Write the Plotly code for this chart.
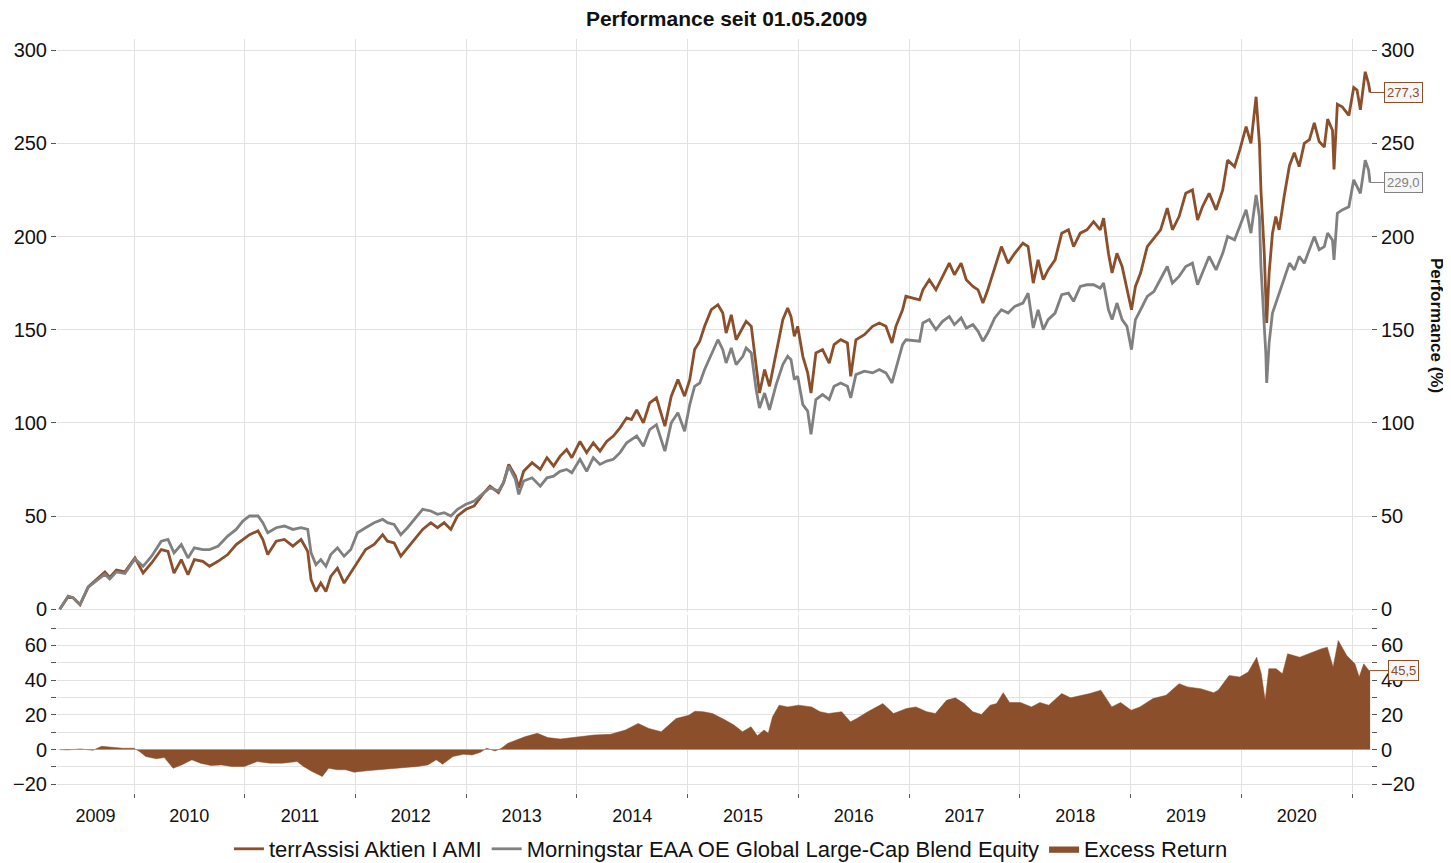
import plotly.graph_objects as go
import pandas as pd

# ---------------- data ----------------
perf_dates = [
    "2009-05-01", "2009-05-29", "2009-06-15", "2009-07-07", "2009-08-03", "2009-08-31", "2009-09-27", "2009-10-13", "2009-11-04", "2009-12-02",
    "2010-01-04", "2010-01-31", "2010-02-28", "2010-04-01", "2010-04-23", "2010-05-13", "2010-06-06", "2010-06-28", "2010-07-19", "2010-08-16",
    "2010-09-07", "2010-10-05", "2010-11-06", "2010-12-04", "2010-12-26",
    "2011-01-17", "2011-02-14", "2011-03-02", "2011-03-18", "2011-04-15", "2011-05-12", "2011-06-09", "2011-07-06", "2011-07-28", "2011-08-08",
    "2011-08-24", "2011-09-09", "2011-09-26", "2011-10-12", "2011-11-03", "2011-11-25", "2011-12-17",
    "2012-01-08", "2012-02-04", "2012-03-03", "2012-03-31", "2012-04-16", "2012-05-08", "2012-05-30", "2012-06-21", "2012-07-13", "2012-08-10",
    "2012-09-06", "2012-09-28", "2012-10-20", "2012-11-11", "2012-12-03", "2012-12-31",
    "2013-01-27", "2013-03-01",
    "2013-03-20", "2013-04-17", "2013-05-04", "2013-05-21", "2013-06-12", "2013-06-23", "2013-07-09", "2013-08-06", "2013-09-02", "2013-09-24",
    "2013-10-16", "2013-11-06", "2013-11-28", "2013-12-15",
    "2014-01-11", "2014-02-02", "2014-02-24", "2014-03-18", "2014-04-09", "2014-05-01", "2014-05-23", "2014-06-14", "2014-06-30", "2014-07-17",
    "2014-08-08", "2014-08-29", "2014-09-20", "2014-10-18", "2014-11-08", "2014-11-30", "2014-12-22",
    "2015-01-08", "2015-01-24", "2015-02-10", "2015-02-26", "2015-03-20", "2015-04-11", "2015-04-27", "2015-05-08", "2015-05-25", "2015-06-10",
    "2015-07-02", "2015-07-13", "2015-07-30", "2015-08-15", "2015-08-26", "2015-09-12", "2015-09-28", "2015-10-20", "2015-11-11", "2015-11-27",
    "2015-12-08", "2015-12-19", "2015-12-30",
    "2016-01-16", "2016-02-01", "2016-02-12", "2016-02-28", "2016-03-21", "2016-04-12", "2016-04-28", "2016-05-20", "2016-06-11", "2016-06-22",
    "2016-07-09", "2016-08-06", "2016-09-02", "2016-09-24", "2016-10-16", "2016-11-05", "2016-11-18", "2016-12-10", "2016-12-21",
    "2017-02-04", "2017-02-15",
    "2017-03-08", "2017-03-30", "2017-04-21", "2017-05-13", "2017-05-30", "2017-06-21", "2017-07-08", "2017-07-30", "2017-08-16", "2017-09-01",
    "2017-09-17", "2017-10-10", "2017-11-01", "2017-11-23", "2017-12-15",
    "2018-01-11", "2018-01-28", "2018-02-14", "2018-03-02", "2018-03-19", "2018-04-04", "2018-04-27", "2018-05-19", "2018-06-10", "2018-06-27",
    "2018-07-19", "2018-08-10", "2018-09-01", "2018-09-23", "2018-10-04", "2018-10-20", "2018-11-01", "2018-11-17", "2018-12-04", "2018-12-20",
    "2019-01-04", "2019-01-17", "2019-02-03", "2019-02-25", "2019-03-19", "2019-04-10", "2019-05-02", "2019-05-19", "2019-06-10", "2019-07-02",
    "2019-07-24", "2019-08-10", "2019-08-26", "2019-09-17", "2019-10-10", "2019-11-01", "2019-11-17", "2019-12-10", "2019-12-27",
    "2020-01-17",
    "2020-02-02", "2020-02-19", "2020-03-01", "2020-03-06", "2020-03-17", "2020-03-22", "2020-03-25", "2020-04-02", "2020-04-13", "2020-04-24",
    "2020-05-05", "2020-05-22", "2020-06-08", "2020-06-24", "2020-07-10", "2020-07-27", "2020-08-13", "2020-08-29", "2020-09-14", "2020-10-01",
    "2020-10-12", "2020-10-28", "2020-11-02", "2020-11-13", "2020-11-29", "2020-12-21",
    "2021-01-06", "2021-01-17", "2021-01-28", "2021-02-13", "2021-02-24", "2021-03-01",
]

fund_perf = [
    0, 6.8, 6, 2.3, 12, 16, 20, 17, 21, 20,
    27.5, 19.4, 24.8, 32, 31, 19.4, 26.6, 18.5, 26.6, 25.7, 23, 25.7, 29.3, 34.7, 37.4,
    40, 42, 37.4, 29.3, 36.5, 37.4, 33.8, 37.4, 31, 15.8, 9.5, 14, 9.5, 17.6, 22, 14, 19.4,
    24.8, 32, 34.7, 40, 36.5, 35.6, 28.4, 32.9, 37.4, 42.8, 46.4, 43.7, 46.4, 42.8, 50, 53.6,
    55.4, 62.6,
    66, 62.5, 67.9, 77.7, 71.4, 65.2, 74, 78.6, 75, 81.3, 76.8, 82, 85.7, 81.3,
    90, 84, 89.3, 84.8, 90, 92.9, 97.3, 102.7, 101.8, 107, 100, 110.7, 113.4, 98.2, 114.3, 123.2, 114.3,
    123.2, 139.3, 143.8, 151.8, 160.7, 163.4, 158.9, 148.2, 158, 144.6, 150.9, 154.5, 151.8, 128.6, 116, 128.6,
    119.6, 137.5, 155.4, 161.6, 157, 146.4, 151.8,
    135.7, 126.8, 116, 137.5, 139.3, 132.1, 142, 144.6, 142.9, 125, 144.6, 147.3, 151.8, 153.6, 151.8, 142.9,
    151.8, 160.7, 167.9,
    166, 171.4,
    176.8, 171.4, 178.6, 185.7, 179.5, 185.7, 176.8, 173.2, 171.4, 164.3, 171.4, 183.9, 194.6, 185.7, 191,
    196.4, 194.6, 175, 187.5, 176.8, 182.1, 187.5, 201.8, 203.6, 194.6, 201.8, 203.6, 208, 203.6, 209.8, 191,
    180.4, 191, 183.9, 171.4,
    160.7, 173.2, 180.4, 194.6, 199.1, 203.6, 215.2, 203.6, 210.7, 223.2, 225, 208.9, 216, 223.2, 214.3, 225,
    241, 237.5, 246.4,
    259,
    250, 275, 250, 225, 191, 158.9, 153.6, 180.4, 201.8, 210.7, 203.6, 222, 238, 245, 237.5, 250, 252, 261,
    251, 248, 263, 257, 236, 271, 269.6, 265,
    280, 278.6, 268, 288.4, 282, 277.3,
]

bench_perf = [
    0, 7, 6, 2.6, 11.8, 15.2, 18.8, 16.2, 20, 19.2,
    27, 23, 28.4, 36.5, 37.4, 30.2, 34.7, 27.5, 32.9, 32, 32, 33.8, 39.2, 42.8, 47.3,
    50, 50, 46.4, 41, 43.7, 44.6, 42.8, 43.7, 42.8, 30.2, 23.9, 26.6, 23, 29.3, 32.9, 28.4, 32,
    41, 43.7, 46.4, 48.2, 46.4, 45.5, 40, 43.7, 48.2, 53.6, 52.7, 50.9, 51.8, 50, 53.6, 56.3,
    58, 62.6,
    65.2, 63.4, 68, 76.8, 69.6, 61.6, 68.8, 70.5, 66, 70.5, 71.4, 74, 75, 73.2,
    80.4, 74, 81.3, 77.7, 79.5, 80.4, 84, 89.3, 91, 92.9, 87.5, 96.4, 99, 84.8, 100, 105.4, 95.5,
    109.8, 119.6, 121.4, 128.6, 136.6, 144.6, 139.3, 132.1, 140.2, 131.3, 135.7, 140.2, 137.5, 117.9, 108, 116,
    107, 120.5, 131.3, 135.7, 133.9, 123.2, 125,
    109.8, 106.3, 93.8, 112.5, 115.2, 112.5, 119.6, 121.4, 119.6, 113.4, 125.9, 127.7, 126.8, 128.6, 126.8, 121.4,
    129.5, 142, 144.6,
    143.8, 153.6,
    155.4, 150, 154.5, 157.1, 152.7, 156.3, 150.9, 152.7, 149.1, 143.8, 148.2, 156.3, 160.7, 158.9, 162.5,
    164.3, 169.6, 150.9, 160.7, 150, 155.4, 158.9, 168.8, 169.6, 165.2, 173.2, 174.1, 174.1, 172.3, 175, 160.7,
    155.4, 164.3, 155.4, 151.8,
    139.3, 155.4, 160.7, 167.9, 170.5, 176.8, 183.9, 175, 178.6, 183.9, 185.7, 174.1, 180.4, 189.3, 182.1, 191,
    200, 198.2, 205.4,
    214.3,
    201.8, 222.3, 210.7, 183.9, 151.8, 137.5, 121.4, 142.9, 158.9, 164.3, 169.6, 178.6, 185.7, 182.1, 189.3, 185.7,
    192.9, 200, 192.9, 194.6, 201.8, 198, 187.5, 212.5, 214.3, 216,
    230.4, 226.8, 223.2, 241, 235.7, 229.0,
]

excess_dates = [
    "2009-05-01", "2009-05-27", "2009-07-08", "2009-08-19", "2009-09-16", "2009-10-20", "2009-11-24", "2010-01-01", "2010-01-19", "2010-02-09",
    "2010-03-15", "2010-04-11", "2010-05-10", "2010-06-07", "2010-07-11", "2010-08-08", "2010-09-12", "2010-10-16", "2010-11-20", "2010-12-31",
    "2011-02-11", "2011-03-25", "2011-05-06", "2011-06-23", "2011-07-14", "2011-08-11", "2011-09-14", "2011-10-05", "2011-11-02", "2011-11-30",
    "2011-12-28", "2012-02-07", "2012-03-20", "2012-05-01", "2012-06-12", "2012-07-24", "2012-08-27", "2012-09-24", "2012-10-15", "2012-11-18",
    "2012-12-23", "2013-01-20", "2013-02-17", "2013-03-09", "2013-04-06", "2013-04-27", "2013-05-18", "2013-06-15", "2013-07-13", "2013-08-23",
    "2013-09-27", "2013-11-07", "2014-01-02", "2014-02-26", "2014-04-22", "2014-06-10", "2014-07-22", "2014-08-26", "2014-10-06", "2014-11-24",
    "2015-01-05", "2015-01-25", "2015-02-22", "2015-03-24", "2015-05-05", "2015-06-03", "2015-07-01", "2015-07-29", "2015-08-19", "2015-09-10",
    "2015-09-24", "2015-10-08", "2015-10-30", "2015-11-27", "2016-01-02", "2016-02-14", "2016-03-13", "2016-04-10", "2016-05-23", "2016-06-21",
    "2016-07-12", "2016-08-17", "2016-10-06", "2016-11-10", "2016-12-23", "2017-01-23", "2017-02-28", "2017-03-28", "2017-05-04", "2017-06-02",
    "2017-07-01", "2017-07-30", "2017-08-27", "2017-09-25", "2017-10-16", "2017-11-07", "2017-11-28", "2018-01-03", "2018-02-08", "2018-03-08",
    "2018-04-06", "2018-05-19", "2018-06-17", "2018-07-15", "2018-08-20", "2018-09-25", "2018-10-31", "2018-11-29", "2019-01-03", "2019-02-01",
    "2019-03-16", "2019-04-28", "2019-06-10", "2019-07-08", "2019-08-20", "2019-10-02", "2019-10-17", "2019-11-22", "2019-12-27", "2020-01-24",
    "2020-02-21", "2020-03-07", "2020-03-20", "2020-04-01", "2020-04-25", "2020-05-16", "2020-06-02", "2020-07-12", "2020-08-23", "2020-09-20",
    "2020-10-11", "2020-10-30", "2020-11-16", "2020-12-14", "2021-01-10", "2021-01-24", "2021-02-08", "2021-02-25", "2021-03-01",
]

excess_return = [
    0, -0.2, 0.4, -0.4, 1.9, 1.5, 0.8, 0.8, -1.1, -4,
    -5.3, -4.6, -10.7, -8.8, -5.9, -7.8, -9.2, -8.8, -9.7, -9.7,
    -6.9, -7.8, -7.8, -6.9, -9.7, -12.6, -15.5, -10.7, -11.6, -11.6,
    -13, -12.2, -11.6, -11.1, -10.7, -9.7, -8.8, -5.9, -8.4, -4,
    -2.7, -3.1, -1.5, 0.8, -0.8, 0.8, 3.6, 5.5, 7.4, 9.4,
    6.9, 6.1, 7.4, 8.4, 8.8, 11.3, 15.1, 12.2, 10.3, 17.9,
    19.8, 22.1, 21.8, 20.8, 17, 14.1, 10.3, 13.2, 8, 11.3,
    9.4, 18.9, 25.6, 24.6, 25.6, 24.6, 21.8, 20.8, 21.8, 16,
    17.9, 21.8, 26.5, 20.8, 23.7, 24.6, 21.8, 20.8, 28.4, 29.8,
    26.5, 21.8, 20.2, 25.6, 26.5, 32.8, 27.1, 27.1, 24.6, 27.1,
    25.6, 32.3, 29.8, 30.9, 32.3, 34.2, 24.6, 27.1, 22.7, 24.6,
    29.4, 31.3, 38, 36.1, 35.1, 32.8, 34.2, 42.7, 41.8, 44.7,
    53.2, 43.7, 28.4, 46.6, 46.6, 43.7, 55.2, 53.2, 56.1, 58,
    59, 47.5, 62.8, 54.2, 49.4, 41.8, 49.4, 45.6, 45.5,
]

year_labels = ["2009", "2010", "2011", "2012", "2013", "2014", "2015", "2016", "2017", "2018", "2019", "2020"]
series_names = ["terrAssisi Aktien I AMI", "Morningstar EAA OE Global Large-Cap Blend Equity", "Excess Return"]
chart_title = "Performance seit 01.05.2009"
axis_title = "Performance (%)"

# ---------------- styling ----------------
BROWN = "#8B4F2B"
GRAY = "#808080"
GRID = "#e2e2e2"
TICKC = "#555555"
FONT = "Liberation Sans, Arial, sans-serif"
X_RANGE = ["2009-04-22", "2021-03-04"]

# page body has an 8px margin: figure is sized/offset to compensate
FIG_W, FIG_H = 1443, 855

rs, re_ = pd.Timestamp(X_RANGE[0]), pd.Timestamp(X_RANGE[1])
year_bounds = [f"{int(y) + 1}-01-01" for y in year_labels]
label_pos = []
for y in year_labels:
    a = max(pd.Timestamp(f"{y}-01-01"), rs)
    b = min(pd.Timestamp(f"{int(y) + 1}-01-01"), re_)
    label_pos.append((a + (b - a) / 2).strftime("%Y-%m-%d %H:%M"))


def fmt(v):
    return f"{v:.1f}".replace(".", ",")


fig = go.Figure()
fig.add_trace(go.Scatter(x=perf_dates, y=fund_perf, mode="lines", name=series_names[0],
                         line=dict(color=BROWN, width=2.8), xaxis="x", yaxis="y"))
fig.add_trace(go.Scatter(x=perf_dates, y=bench_perf, mode="lines", name=series_names[1],
                         line=dict(color=GRAY, width=2.8), xaxis="x", yaxis="y"))
fig.add_trace(go.Scatter(x=excess_dates, y=excess_return, mode="lines", name=series_names[2],
                         fill="tozeroy", fillcolor=BROWN, line=dict(color=BROWN, width=0.5),
                         xaxis="x2", yaxis="y2"))

tickfont = dict(family=FONT, size=20, color="#111111")
main_ticks = [0, 50, 100, 150, 200, 250, 300]
main_range = [-1.5, 306]
low_range = [-25, 77.5]
low_ticks = [-20, 0, 20, 40, 60]
low_minor = [-20, -10, 0, 10, 20, 30, 40, 50, 60, 70]

common_x = dict(type="date", range=X_RANGE, showline=False, zeroline=False, showgrid=False)

fig.update_layout(
    width=FIG_W, height=FIG_H,
    margin=dict(l=49, r=80, t=31, b=70, autoexpand=False),
    paper_bgcolor="white", plot_bgcolor="white",
    font=dict(family=FONT, color="#111111"),
    title=dict(text=f"<b>{chart_title}</b>", x=0.498, xref="container", xanchor="center",
               y=1 - 11 / FIG_H, yref="container", yanchor="middle",
               font=dict(family=FONT, size=21, color="#111111")),
    showlegend=True,
    legend=dict(orientation="h", x=0.501, xref="container", xanchor="center",
                y=1 - 841 / FIG_H, yref="container", yanchor="middle",
                font=dict(family=FONT, size=22, color="#111111"), itemwidth=30,
                bgcolor="rgba(0,0,0,0)", traceorder="normal"),
    xaxis=dict(**common_x, anchor="y", domain=[0, 1], showticklabels=False, ticks="",
               minor=dict(tickmode="array", tickvals=year_bounds, showgrid=True, gridcolor=GRID,
                          gridwidth=1, ticks="")),
    xaxis2=dict(**common_x, anchor="y2", domain=[0, 1], matches="x",
                tickmode="array", tickvals=label_pos, ticktext=year_labels, ticks="",
                tickfont=dict(family=FONT, size=18, color="#111111"), ticklabelstandoff=10,
                minor=dict(tickmode="array", tickvals=year_bounds, showgrid=True, gridcolor=GRID,
                           gridwidth=1, ticks="outside", ticklen=4, tickcolor=TICKC)),
    yaxis=dict(domain=[0.2401, 1], range=main_range, tickmode="array", tickvals=main_ticks,
               showgrid=True, gridcolor=GRID, zeroline=False, showline=False,
               ticks="outside", ticklen=5, tickcolor=TICKC, tickfont=tickfont, anchor="x"),
    yaxis3=dict(overlaying="y", side="right", range=main_range, tickmode="array", tickvals=main_ticks,
                showgrid=False, zeroline=False, showline=False, ticks="outside", ticklen=5,
                tickcolor=TICKC, tickfont=tickfont, anchor="x"),
    yaxis2=dict(domain=[0, 0.236], range=low_range, tickmode="array", tickvals=low_ticks,
                showgrid=True, gridcolor=GRID, zeroline=False, showline=False,
                ticks="outside", ticklen=5, tickcolor=TICKC, tickfont=tickfont, anchor="x2",
                minor=dict(tickmode="array", tickvals=low_minor, showgrid=True, gridcolor=GRID,
                           ticks="outside", ticklen=5, tickcolor=TICKC)),
    yaxis4=dict(overlaying="y2", side="right", range=low_range, tickmode="array", tickvals=low_ticks,
                showgrid=False, zeroline=False, showline=False, ticks="outside", ticklen=5,
                tickcolor=TICKC, tickfont=tickfont, anchor="x2",
                minor=dict(tickmode="array", tickvals=low_minor, showgrid=False,
                           ticks="outside", ticklen=5, tickcolor=TICKC)),
)

# invisible helpers so the right-hand mirror axes are drawn
fig.add_trace(go.Scatter(x=[perf_dates[0]], y=[main_ticks[0]], xaxis="x", yaxis="y3",
                         mode="markers", marker=dict(opacity=0), showlegend=False, hoverinfo="skip"))
fig.add_trace(go.Scatter(x=[excess_dates[0]], y=[low_ticks[1]], xaxis="x2", yaxis="y4",
                         mode="markers", marker=dict(opacity=0), showlegend=False, hoverinfo="skip"))

# value tags at the last point
tags = [
    (perf_dates[-1], fund_perf[-1], "x", "y", BROWN),
    (perf_dates[-1], bench_perf[-1], "x", "y", GRAY),
    (excess_dates[-1], excess_return[-1], "x2", "y2", BROWN),
]
for xv, yv, xr, yr, col in tags:
    fig.add_annotation(x=xv, y=yv, xref=xr, yref=yr, text=fmt(yv), showarrow=True,
                       ax=33, ay=0, axref="pixel", ayref="pixel", arrowhead=0, arrowwidth=1,
                       arrowcolor=col, bordercolor=col, borderwidth=1, borderpad=2,
                       bgcolor="#f6f6f6", font=dict(family=FONT, size=13, color=col))

# right-hand axis title (reads top to bottom)
fig.add_annotation(text=f"<b>{axis_title}</b>", xref="paper", yref="paper", x=1.0 + 66 / 1314,
                   y=1 - (325 - 39) / 754, textangle=90, showarrow=False,
                   font=dict(family=FONT, size=17, color="#111111"), xanchor="center", yanchor="middle")

fig.write_html("out.html")
